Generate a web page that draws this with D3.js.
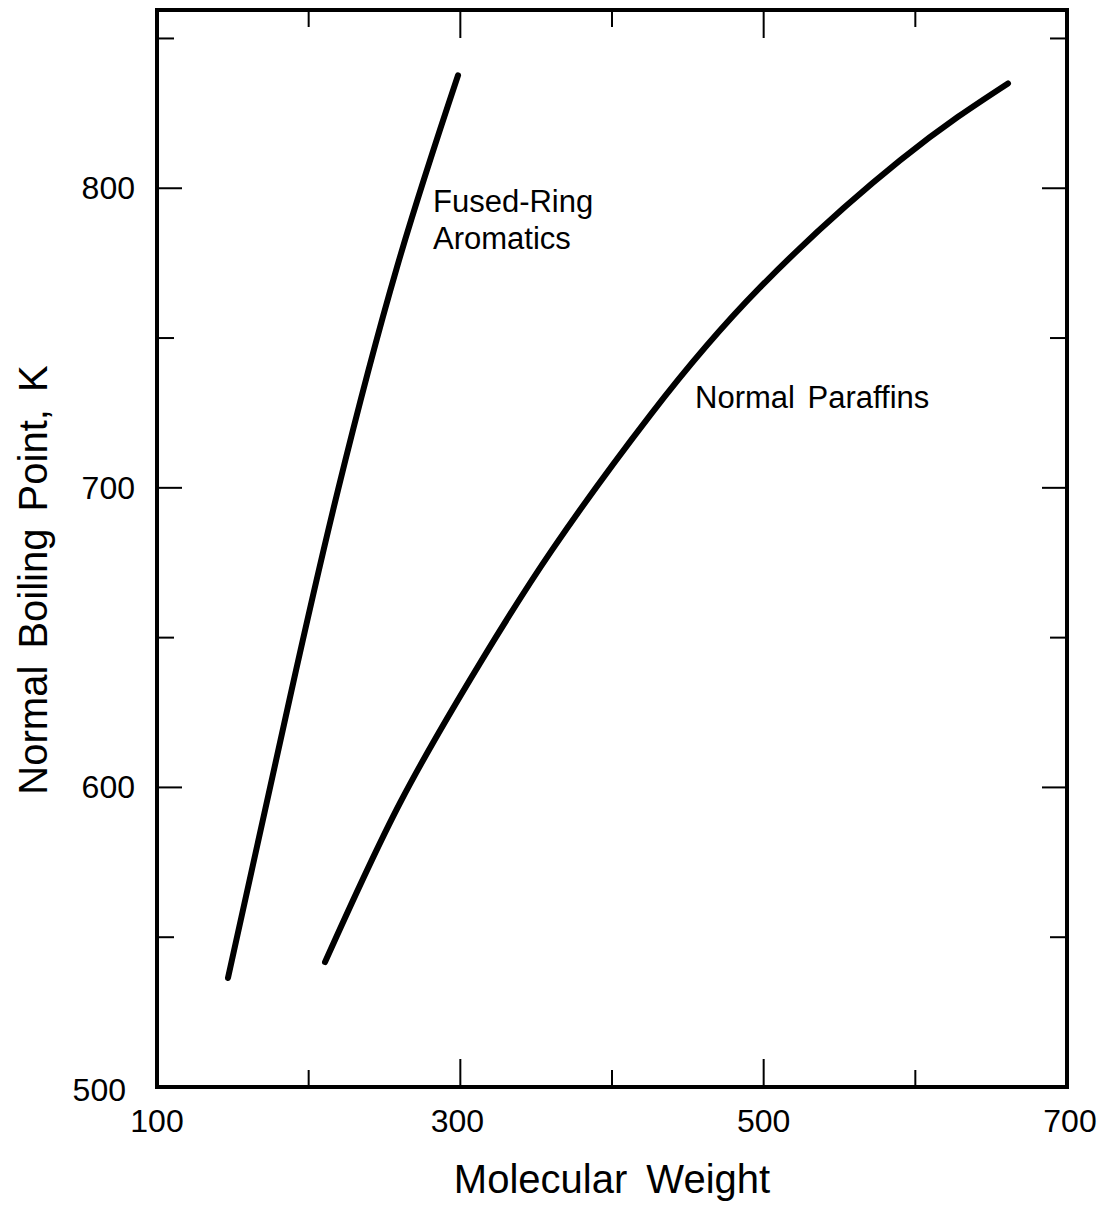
<!DOCTYPE html>
<html>
<head>
<meta charset="utf-8">
<script src="https://cdn.jsdelivr.net/npm/d3@7"></script>
<style>
  html, body { margin: 0; padding: 0; background: #fff; }
  svg { display: block; }
  text { font-family: "Liberation Sans", Arial, Helvetica, sans-serif; fill: #000; }
</style>
</head>
<body>
<script>
// ---- Data ----
const aromaticsMW = [146.8, 187.7, 219.3, 258.2, 298.5];
const aromaticsBP = [536.4, 630.1, 699.2, 773.6, 837.7];

const paraffinsMW = [210.8, 260.2, 313.0, 360.4, 425.1, 497.6, 589.9, 661.1];
const paraffinsBP = [541.7, 594.8, 641.5, 679.2, 724.2, 766.9, 809.3, 835.0];

const xTicks = [100, 200, 300, 400, 500, 600, 700];
const xTickLabels = [100, 300, 500, 700];
const yTicks = [500, 550, 600, 650, 700, 750, 800, 850];
const yTickLabels = [500, 600, 700, 800];

const seriesNames = ["Fused-Ring Aromatics", "Normal Paraffins"];

// ---- Layout ----
const W = 1098, H = 1206;
const pL = 157, pR = 1067, pT = 10, pB = 1087;

const svg = d3.select("body").append("svg").attr("width", W).attr("height", H);

const x = d3.scaleLinear().domain([100, 700]).range([pL, pR]);
const y = d3.scaleLinear().domain([500, 859.5]).range([pB, pT]);

const major = 28, minor = 17;
const isMajorY = v => yTickLabels.includes(v);

// Ticks (inward on all four sides)
const tg = svg.append("g").attr("stroke", "#000").attr("stroke-width", 2);
xTicks.filter(v => v > 100 && v < 700).forEach(v => {
  const len = (v === 300 || v === 500) ? major : minor;
  tg.append("line").attr("x1", x(v)).attr("x2", x(v)).attr("y1", pB).attr("y2", pB - len);
  tg.append("line").attr("x1", x(v)).attr("x2", x(v)).attr("y1", pT).attr("y2", pT + len);
});
yTicks.filter(v => v > 500).forEach(v => {
  const len = isMajorY(v) ? major - 3 : minor;
  tg.append("line").attr("y1", y(v)).attr("y2", y(v)).attr("x1", pL).attr("x2", pL + len);
  tg.append("line").attr("y1", y(v)).attr("y2", y(v)).attr("x1", pR).attr("x2", pR - len);
});

// Frame
svg.append("rect")
  .attr("x", pL).attr("y", pT)
  .attr("width", pR - pL).attr("height", pB - pT)
  .attr("fill", "none").attr("stroke", "#000").attr("stroke-width", 4);

// Tick labels
svg.append("g").selectAll("text").data(xTickLabels).join("text")
  .attr("x", d => x(d) + (d === 300 ? -3 : 0) + (d === 700 ? 3 : 0)).attr("y", 1132)
  .attr("text-anchor", "middle").attr("font-size", 32)
  .text(d => d);

svg.append("g").selectAll("text").data(yTickLabels).join("text")
  .attr("x", d => d === 500 ? 126 : 135).attr("y", d => y(d) + 11 + (d === 500 ? 3 : 0))
  .attr("text-anchor", "end").attr("font-size", 32)
  .text(d => d);

// Axis titles
svg.append("text")
  .attr("x", 612).attr("y", 1193)
  .attr("text-anchor", "middle").attr("font-size", 40)
  .attr("word-spacing", 8)
  .text("Molecular Weight");

svg.append("text")
  .attr("transform", "translate(47,580) rotate(-90)")
  .attr("text-anchor", "middle").attr("font-size", 40)
  .attr("word-spacing", 6)
  .text("Normal Boiling Point, K");

// Curves
const line = d3.line().x(d => x(d[0])).y(d => y(d[1])).curve(d3.curveNatural);
const aromatics = aromaticsMW.map((m, i) => [m, aromaticsBP[i]]);
const paraffins = paraffinsMW.map((m, i) => [m, paraffinsBP[i]]);

svg.append("path").datum(aromatics)
  .attr("d", line).attr("fill", "none").attr("stroke", "#000")
  .attr("stroke-width", 6).attr("stroke-linecap", "round");
svg.append("path").datum(paraffins)
  .attr("d", line).attr("fill", "none").attr("stroke", "#000")
  .attr("stroke-width", 6).attr("stroke-linecap", "round");

// Curve labels
const lab1 = svg.append("text").attr("font-size", 31);
lab1.append("tspan").attr("x", 433).attr("y", 212).text("Fused-Ring");
lab1.append("tspan").attr("x", 433).attr("y", 249).text("Aromatics");

svg.append("text").attr("x", 695).attr("y", 408).attr("font-size", 31)
  .attr("word-spacing", 4)
  .text(seriesNames[1]);
</script>
</body>
</html>
